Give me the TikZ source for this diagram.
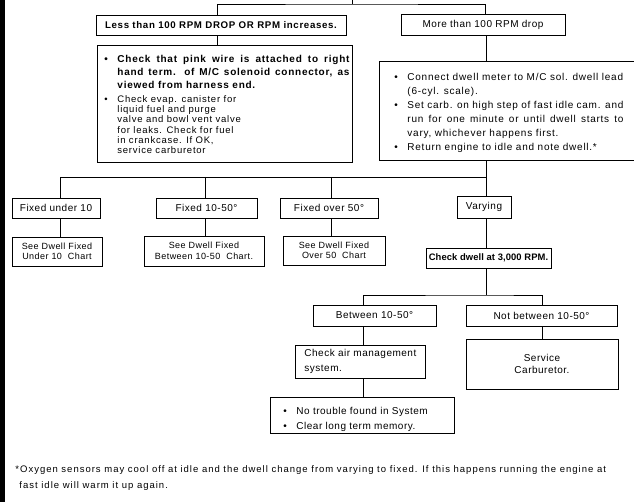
\documentclass[tikz,border=0pt]{standalone}
\usepackage{fontspec}
\setmainfont{Liberation Sans}[LetterSpace=5]
% bullet item: whole paragraph shifted right, bullet hung in the margin
\newcommand{\bulitem}[1]{\par\leftskip=14pt\noindent\llap{\makebox[14pt][l]{\hspace{1pt}\textbullet}}#1\par}
% bullet and indent for hand-broken lines
\newcommand{\bulmark}{\makebox[14pt][l]{\hspace{1pt}\textbullet}}
\newcommand{\bulind}{\hspace*{14pt}}
\newcommand{\spaced}[1]{\addfontfeature{LetterSpace=#1}}
\begin{document}
\begin{tikzpicture}[x=1pt,y=-1pt,line width=0.9pt,
  box/.style={draw,inner sep=0pt,align=center,font=\fontsize{10}{11.5}\selectfont},
  chartbox/.style={box,font=\fontsize{9}{10.5}\selectfont},
  txt/.style={inner sep=0pt,anchor=north west}]
\useasboundingbox (0,0) rectangle (634,502);
% left margin rule
\fill (0,0) rectangle (5,502);

% first level
\coordinate (top) at (352,0);
\coordinate (tbar) at (352,4);
\node[box,minimum width=250pt,minimum height=20pt,font=\fontsize{9.7}{11.5}\selectfont\bfseries\spaced{6.8}] (less) at (221,25) {Less than 100 RPM DROP OR RPM increases.};
\node[box,minimum width=164pt,minimum height=21pt] (more) at (483,24.5) {More than 100 RPM drop};

% check boxes
\node[draw,minimum width=255pt,minimum height=117pt,inner sep=0pt] (chk1) at (224.5,103.5) {};
\node[txt,text width=246pt,align=justify,font=\fontsize{10}{13}\selectfont\bfseries\spaced{7.5}] (chk1a) at (103,49) {%
  \bulitem{Check that pink wire is attached to right\linebreak hand term. of M/C solenoid connector, as\linebreak viewed from harness end.}};
\node[txt,align=left,font=\fontsize{9.5}{10.3}\selectfont\spaced{8}] (chk1b) at (103,95) {%
  \bulmark Check evap. canister for\\ \bulind liquid fuel and purge\\ \bulind valve and bowl vent valve\\
  \bulind for leaks. Check for fuel\\ \bulind in crankcase. If OK,\\ \bulind service carburetor};

\node[draw,minimum width=258pt,minimum height=99pt,inner sep=0pt] (chk2) at (508,110.5) {};
\node[txt,text width=230pt,align=justify,font=\fontsize{10}{14}\selectfont\spaced{7.5}] (chk2t) at (393,66) {%
  \bulitem{Connect dwell meter to M/C sol. dwell lead\newline (6-cyl. scale).}%
  \bulitem{Set carb. on high step of fast idle cam. and\linebreak run for one minute or until dwell starts to\linebreak vary, whichever happens first.}%
  \bulitem{Return engine to idle and note dwell.*}};

% dwell readings
\node[box,minimum width=88pt,minimum height=20pt] (fu10) at (56,208) {Fixed under 10};
\node[box,minimum width=101pt,minimum height=20pt] (f1050) at (206.5,208) {Fixed 10-50°};
\node[box,minimum width=98pt,minimum height=20pt] (fo50) at (329,208) {Fixed over 50°};
\node[box,minimum width=54pt,minimum height=22pt] (vary) at (484,207) {Varying};

\node[chartbox,minimum width=90pt,minimum height=29pt] (sfu) at (57,251.5) {See Dwell Fixed\\Under 10\ \ Chart};
\node[chartbox,minimum width=120pt,minimum height=30pt] (sfb) at (204,251) {See Dwell Fixed\\Between 10-50\ \ Chart.};
\node[chartbox,minimum width=102pt,minimum height=29pt] (sfo) at (334,250.5) {See Dwell Fixed\\Over 50\ \ Chart};

\node[box,minimum width=125pt,minimum height=20pt,font=\fontsize{9.4}{11.5}\selectfont\bfseries\spaced{1}] (c3000) at (488.5,258) {Check dwell at 3,000 RPM.};

% 3,000 RPM results
\node[box,minimum width=123pt,minimum height=21pt] (betw) at (374.5,315.5) {Between 10-50°};
\node[box,minimum width=151pt,minimum height=21pt] (notb) at (541.5,315.5) {Not between 10-50°};
\node[draw,minimum width=130pt,minimum height=33pt,inner sep=0pt] (air) at (360,362) {};
\node[txt,align=left,font=\fontsize{10}{15}\selectfont] (airt) at (304,349) {Check air management\\system.};
\node[box,minimum width=152pt,minimum height=50pt] (svc) at (542,364) {Service\\Carburetor.};
\node[draw,minimum width=184pt,minimum height=36pt,inner sep=0pt] (ntf) at (362,415) {};
\node[txt,text width=175pt,align=left,font=\fontsize{10}{14.5}\selectfont] (ntft) at (282,400) {%
  \bulitem{No trouble found in System}\bulitem{Clear long term memory.}};

% connectors
\draw (top) -- (tbar);
\draw (less.north -| 217,0) |- (tbar) -| (more.north -| 485,0);
\draw (less.south -| 217,0) -- (chk1.north -| 217,0);
\draw (more.south -| 486,0) -- (chk2.north -| 486,0);
\coordinate (bus) at (486,177);
\draw (chk2.south -| bus) -- (bus) -- (bus -| 60,0) -- (fu10.north -| 60,0);
\draw (bus -| 205,0) -- (f1050.north -| 205,0);
\draw (bus -| 331,0) -- (fo50.north -| 331,0);
\draw (bus) -- (vary.north -| bus);
\draw (fu10.south -| 60,0) -- (sfu.north -| 60,0);
\draw (f1050.south -| 205,0) -- (sfb.north -| 205,0);
\draw (fo50.south -| 331,0) -- (sfo.north -| 331,0);
\draw (vary.south -| 486,0) -- (c3000.north -| 486,0);
\coordinate (bus2) at (486,295);
\draw (c3000.south -| bus2) -- (bus2);
\draw (betw.north -| 363,0) |- (bus2) -| (notb.north -| 542,0);
\draw (betw.south -| 363,0) -- (air.north -| 363,0);
\draw (notb.south -| 542,0) -- (svc.north -| 542,0);
\draw (air.south -| 363,0) -- (ntf.north -| 363,0);

% footnote
\node[txt,align=left,font=\fontsize{9.5}{16.5}\selectfont\spaced{10.5}] (note) at (15,465) {*Oxygen sensors may cool off at idle and the dwell change from varying to fixed. If this happens running the engine at\\\hspace*{4pt}fast idle will warm it up again.};
\end{tikzpicture}
\end{document}
